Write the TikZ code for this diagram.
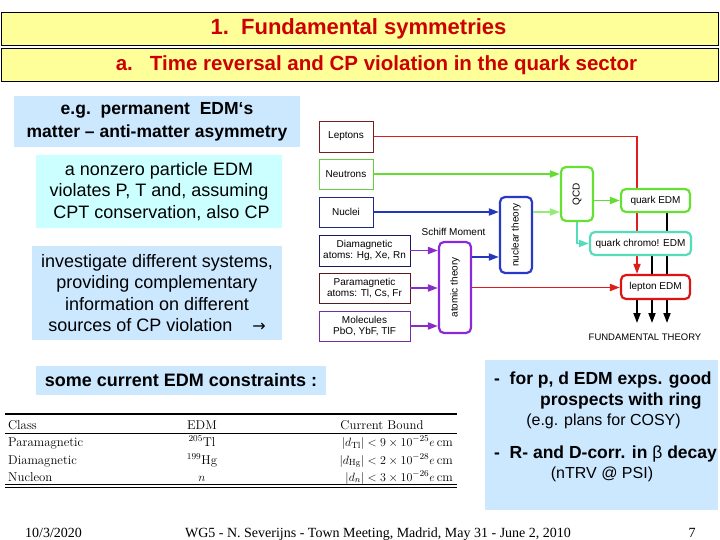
\documentclass[tikz,border=0pt]{standalone}
\usepackage{fontspec}
\newfontfamily\arial{Liberation Sans}
\newfontfamily\tnr{Liberation Serif}
\newfontfamily\dejavu{DejaVu Sans}
\usetikzlibrary{arrows.meta,calc}
\pgfdeclarelayer{bg}
\pgfdeclarelayer{canvas}
\pgfsetlayers{canvas,bg,main}
\definecolor{ttlfill}{RGB}{255,255,153}
\definecolor{ttlred}{RGB}{204,0,0}
\definecolor{lblue}{RGB}{204,232,255}
\definecolor{lcyan}{RGB}{204,255,255}
\definecolor{cLep}{RGB}{120,30,30}
\definecolor{cNeu}{RGB}{102,204,68}
\definecolor{cNuc}{RGB}{30,40,130}
\definecolor{cDia}{RGB}{25,25,95}
\definecolor{cPara}{RGB}{90,25,25}
\definecolor{cMol}{RGB}{112,48,160}
\definecolor{aRed}{RGB}{220,30,30}
\definecolor{aGreen}{RGB}{100,220,50}
\definecolor{aLGreen}{RGB}{150,235,120}
\definecolor{aBlue}{RGB}{35,55,190}
\definecolor{aPurple}{RGB}{136,45,200}
\definecolor{bPurple}{RGB}{140,40,220}
\definecolor{bBlue}{RGB}{40,56,200}
\definecolor{bGreen}{RGB}{102,225,51}
\definecolor{bTurq}{RGB}{85,221,187}
\definecolor{bRed}{RGB}{220,20,20}
\tikzset{
  ttl/.style={draw=black, line width=0.9pt, fill=ttlfill, minimum width=717pt, minimum height=33pt, inner sep=0pt},
  ttltext/.style={text=ttlred, font=\arial\bfseries\fontsize{22}{24}\selectfont, inner sep=0pt},
  infobox/.style={fill=lblue, inner sep=0pt, align=center, font=\arial\fontsize{18}{21.5}\selectfont},
  inbox/.style={draw, line width=0.9pt, fill=white, minimum width=54pt, minimum height=31pt, inner sep=0pt, align=center, font=\arial\fontsize{10}{11.5}\selectfont},
  rbox/.style={draw, rounded corners=5pt, line width=2.2pt, fill=white, inner sep=0pt, align=center, font=\arial\fontsize{10}{11.5}\selectfont},
  arr/.style={-{Triangle[length=10pt,width=7pt]}, line width=1.8pt},
  rtext/.style={inner sep=0pt, anchor=west, font=\arial\bfseries\fontsize{17.5}{20}\selectfont},
  rsmall/.style={inner sep=0pt, font=\arial\fontsize{16}{18}\selectfont},
  tab/.style={inner sep=0pt, font=\fontsize{12.8}{14}\selectfont},
  foot/.style={inner sep=0pt, anchor=base, font=\tnr\fontsize{14}{16}\selectfont}
}
\begin{document}
\begin{tikzpicture}[x=1pt,y=-1pt]
\useasboundingbox (0,0) rectangle (720,540);
\begin{pgfonlayer}{canvas}
\fill[white] (0,0) rectangle (720,540);
\end{pgfonlayer}
% titles
\node[ttl] (t1) at (359.5,28.5) {};
\node[ttltext] (t1txt) at (358.5,29) {1.\ \ Fundamental symmetries};
\node[ttl] (t2) at (359.5,64.5) {};
\node[ttltext, font=\arial\bfseries\fontsize{20.5}{24}\selectfont] (t2txt) at (376.5,65) {a.\ \ \ Time reversal and CP violation in the quark sector};
% left info boxes
\node[infobox, minimum width=286pt, minimum height=51pt, font=\arial\bfseries\fontsize{17.5}{23}\selectfont] (b1) at (157,121.5) {e.g.\ \ permanent\ \ EDM‘s\\matter – anti-matter asymmetry};
\node[infobox, fill=lcyan, minimum width=246pt, minimum height=73pt] (b2) at (159,191.5) {a nonzero particle EDM\\violates P, T and, assuming\\\ CPT conservation, also CP};
\node[infobox, minimum width=250pt, minimum height=94pt] (b3) at (157,293) {investigate different systems,\\providing complementary\\information on different\\sources of CP violation\ \ \ \ {\dejavu\fontsize{16}{18}\selectfont →}};
\node[infobox, minimum width=290pt, minimum height=29pt, font=\arial\bfseries\fontsize{18}{21}\selectfont] (b4) at (181,380.5) {some current EDM constraints :};
% right box
\node[fill=lblue, minimum width=233pt, minimum height=150pt, inner sep=0pt] (rb) at (601.5,435) {};
\node[rtext] (r1) at (494,380) {-\ \ for p, d EDM exps. good};
\node[rtext] (r2) at (540,401.5) {prospects with ring};
\node[rsmall] (r3) at (603.5,421) {(e.g. plans for COSY)};
\node[rtext] (r4) at (494,454) {-\ \ R- and D-corr. in {\mdseries β} decay};
\node[rsmall] (r5) at (602,474) {(nTRV @ PSI)};
% diagram nodes
\node[inbox, draw=cLep] (lep) at (346,136.5) {Leptons};
\node[inbox, draw=cNeu, minimum height=30pt] (neu) at (346,174) {Neutrons};
\node[inbox, draw=cNuc, minimum height=30pt] (nuc) at (346,212) {Nuclei};
\node[inbox, draw=cDia, minimum width=91pt] (dia) at (364.5,250.5) {Diamagnetic\\atoms: Hg, Xe, Rn};
\node[inbox, draw=cPara, minimum width=91pt, minimum height=30pt] (para) at (364.5,288) {Paramagnetic\\atoms: Tl, Cs, Fr};
\node[inbox, draw=cMol, minimum width=91pt, minimum height=30pt] (mol) at (364.5,326) {Molecules\\PbO, YbF, TlF};
\node[rbox, draw=bPurple, minimum width=32pt, minimum height=91pt] (atom) at (455,287.5) {\rotatebox{90}{atomic theory}};
\node[rbox, draw=bBlue, minimum width=32pt, minimum height=76pt] (nucl) at (516,235) {\rotatebox{90}{nuclear theory}};
\node[rbox, draw=bGreen, minimum width=32pt, minimum height=54pt] (qcd) at (577,194) {\rotatebox{90}{QCD}};
\node[rbox, draw=bGreen, minimum width=69pt, minimum height=23pt] (qedm) at (655.5,200.5) {quark EDM};
\node[rbox, draw=bTurq, minimum width=101pt, minimum height=23pt] (chromo) at (640.5,243.5) {quark chromo! EDM};
\node[rbox, draw=bRed, minimum width=69pt, minimum height=24pt] (ledm) at (655.5,287) {lepton EDM};
\node[inner sep=0pt, font=\arial\fontsize{10}{12}\selectfont] (schiff) at (453.5,232) {Schiff Moment};
\node[inner sep=0pt, font=\arial\fontsize{9.5}{11}\selectfont] (ft) at (645,337) {FUNDAMENTAL THEORY};
\coordinate (k1) at (637,323);
\coordinate (k2) at (652,323);
\coordinate (k3) at (667,323);
% connectors
\begin{pgfonlayer}{bg}
\draw[arr, aRed] (lep.east) -| (k1 |- ledm.north);
\draw[arr, black] (k3 |- qedm.south) -- (k3);
\draw[arr, black] (k2 |- chromo.south) -- (k2);
\draw[arr, black] (k1 |- ledm.south) -- (k1);
\end{pgfonlayer}
\draw[arr, aGreen] (neu.east) -- (neu.east -| qcd.west);
\draw[arr, aBlue] (nuc.east) -- (nuc.east -| nucl.west);
\draw[arr, aLGreen] (nuc.east -| nucl.east) -- (nuc.east -| qcd.west);
\draw[arr, aGreen] (qedm.west -| qcd.east) -- (qedm.west);
\draw[arr, bTurq] (qcd.south) |- (chromo.west);
\draw[arr, aPurple] (dia.east) -- (dia.east -| atom.west);
\draw[arr, aPurple] (para.east) -- (para.east -| atom.west);
\draw[arr, aPurple] (mol.east) -- (mol.east -| atom.west);
\draw[arr, aBlue] ($(atom.east)+(0,-30.5)$) -- ($(atom.east -| nucl.west)+(0,-30.5)$);
\draw[arr, aRed] (atom.east) -- (atom.east -| ledm.west);
% table
\draw[line width=1.6pt] (5,414) -- (457,414);
\draw[line width=0.9pt] (5,433) -- (457,433);
\draw[line width=0.8pt] (5,484.8) -- (457,484.8);
\draw[line width=0.8pt] (5,487.3) -- (457,487.3);
\node[tab, anchor=base west] (c0) at (8,429) {Class};
\node[tab, anchor=base] (e0) at (202,429) {EDM};
\node[tab, anchor=base] (d0) at (382,429) {Current Bound};
\node[tab, anchor=base west] (c1) at (8,446) {Paramagnetic};
\node[tab, anchor=base] (e1) at (202,446) {$^{205}$Tl};
\node[tab, anchor=base east] (d1) at (453,446) {$|d_{\mathrm{Tl}}| < 9\times10^{-25}e\,\mathrm{cm}$};
\node[tab, anchor=base west] (c2) at (8,464) {Diamagnetic};
\node[tab, anchor=base] (e2) at (202,464) {$^{199}$Hg};
\node[tab, anchor=base east] (d2) at (453,464) {$|d_{\mathrm{Hg}}| < 2\times10^{-28}e\,\mathrm{cm}$};
\node[tab, anchor=base west] (c3) at (8,481) {Nucleon};
\node[tab, anchor=base] (e3) at (202,481) {$n$};
\node[tab, anchor=base east] (d3) at (453,481) {$|d_n| < 3\times10^{-26}e\,\mathrm{cm}$};
% footer
\node[foot] (f1) at (53.5,537) {10/3/2020};
\node[foot] (f2) at (378,537) {WG5 - N. Severijns - Town Meeting, Madrid, May 31 - June 2, 2010};
\node[foot] (f3) at (692,537) {7};
\end{tikzpicture}
\end{document}
